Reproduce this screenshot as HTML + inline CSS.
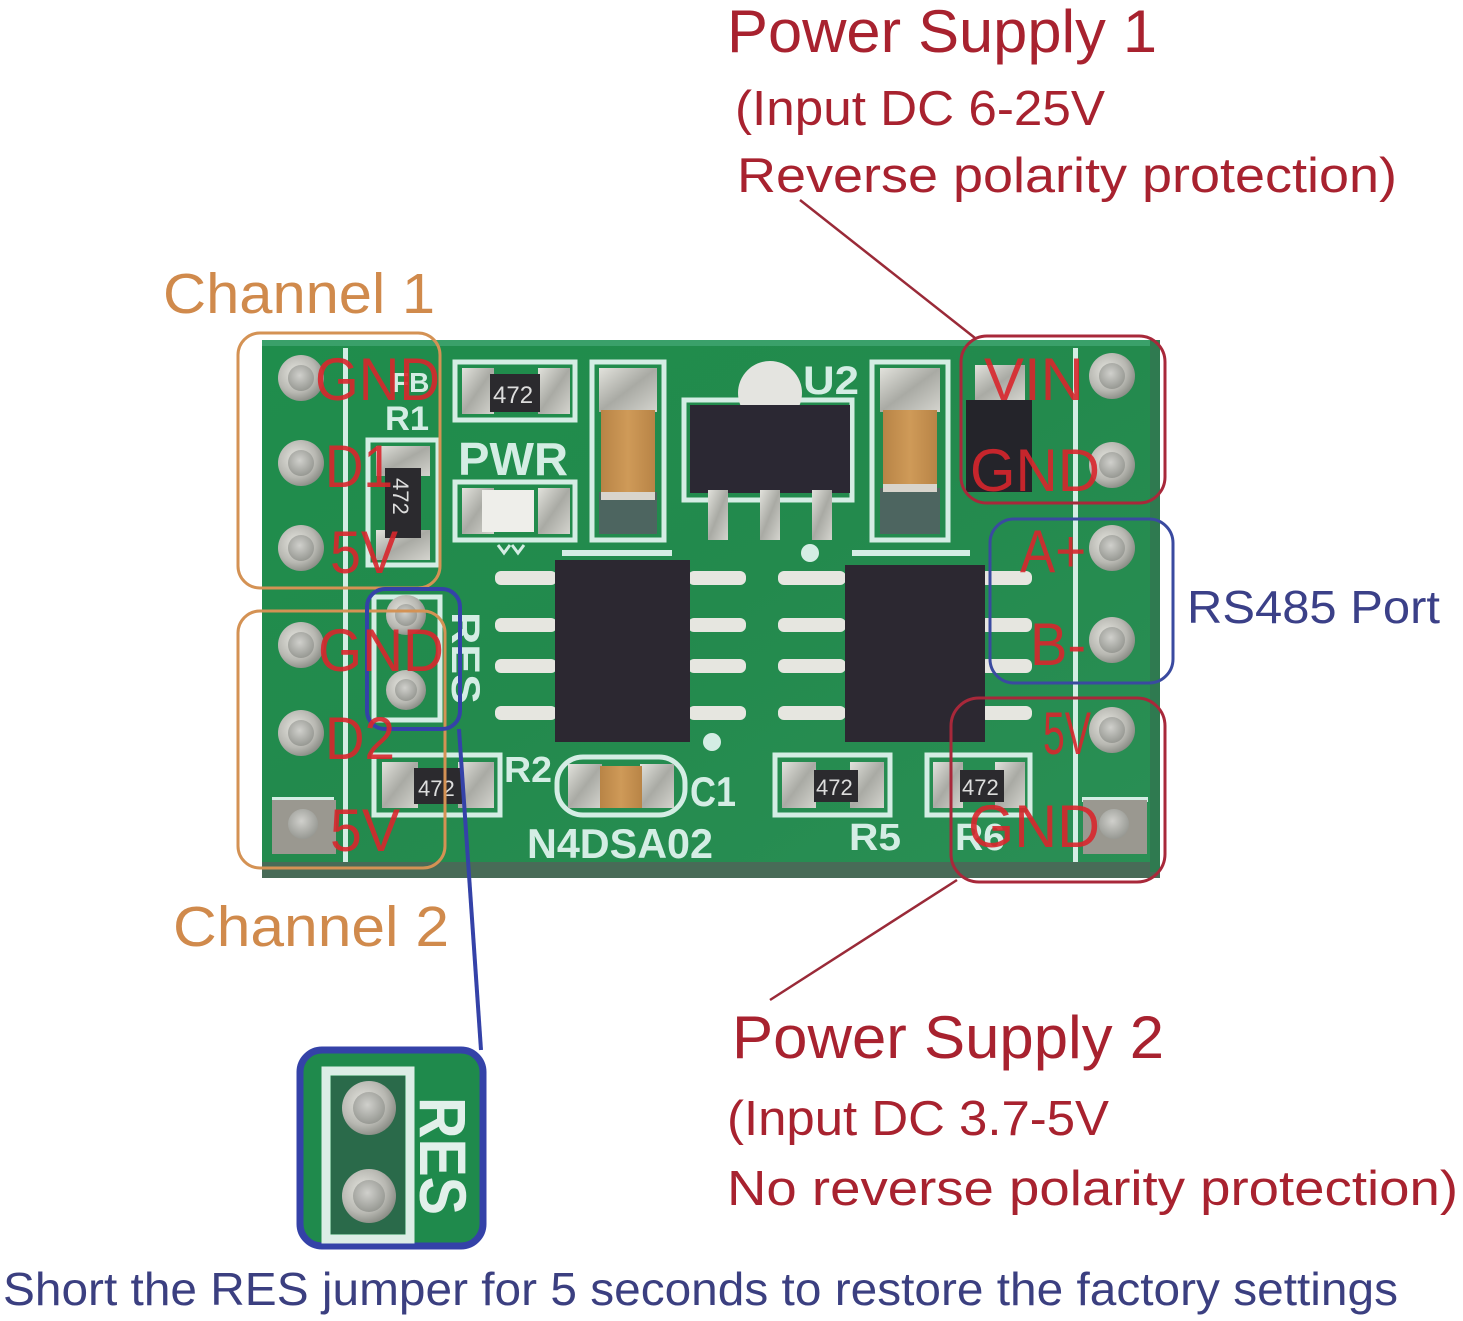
<!DOCTYPE html>
<html>
<head>
<meta charset="utf-8">
<style>
html,body{margin:0;padding:0;background:#fff;}
svg{display:block;}
text{font-family:"Liberation Sans","DejaVu Sans",sans-serif;}
</style>
</head>
<body>
<svg width="1463" height="1321" viewBox="0 0 1463 1321" xmlns="http://www.w3.org/2000/svg">
<defs>
  <linearGradient id="pcb" x1="0" y1="0" x2="1" y2="1">
    <stop offset="0" stop-color="#1f8d4c"/>
    <stop offset="0.5" stop-color="#238a4d"/>
    <stop offset="1" stop-color="#2a8f55"/>
  </linearGradient>
  <radialGradient id="ring" cx="0.4" cy="0.4" r="0.7">
    <stop offset="0" stop-color="#e6e6e0"/>
    <stop offset="0.6" stop-color="#b8b8b2"/>
    <stop offset="1" stop-color="#7c7f78"/>
  </radialGradient>
  <radialGradient id="hole" cx="0.45" cy="0.4" r="0.7">
    <stop offset="0" stop-color="#d0d0cc"/>
    <stop offset="1" stop-color="#8e908a"/>
  </radialGradient>
  <linearGradient id="pad" x1="0" y1="0" x2="1" y2="1">
    <stop offset="0" stop-color="#e2e2dc"/>
    <stop offset="0.5" stop-color="#a9aaa4"/>
    <stop offset="1" stop-color="#d4d4ce"/>
  </linearGradient>
  <linearGradient id="tan" x1="0" y1="0" x2="1" y2="0">
    <stop offset="0" stop-color="#b88446"/>
    <stop offset="0.5" stop-color="#cf9a58"/>
    <stop offset="1" stop-color="#b88446"/>
  </linearGradient>
</defs>

<!-- PCB -->
<rect x="262" y="340" width="898" height="532" fill="url(#pcb)"/>
<rect x="262" y="340" width="898" height="6" fill="#3aa06a"/>
<rect x="262" y="862" width="898" height="16" fill="#486b57"/>
<rect x="1150" y="340" width="10" height="532" fill="#2f7a50"/>

<!-- silkscreen column lines -->
<rect x="343" y="348" width="5" height="514" fill="#d4ede4"/>
<rect x="1073" y="348" width="5" height="514" fill="#d4ede4"/>
<!-- square pad outlines -->
<rect x="272" y="797" width="62" height="5" fill="#d4ede4"/>
<rect x="1082" y="797" width="66" height="5" fill="#d4ede4"/>

<!-- left pin holes -->
<g>
  <rect x="272" y="800" width="64" height="54" fill="#9a9890"/>
  <circle cx="301" cy="378" r="23" fill="url(#ring)"/><circle cx="301" cy="378" r="13" fill="url(#hole)"/>
  <circle cx="301" cy="463" r="23" fill="url(#ring)"/><circle cx="301" cy="463" r="13" fill="url(#hole)"/>
  <circle cx="301" cy="548" r="23" fill="url(#ring)"/><circle cx="301" cy="548" r="13" fill="url(#hole)"/>
  <circle cx="301" cy="645" r="23" fill="url(#ring)"/><circle cx="301" cy="645" r="13" fill="url(#hole)"/>
  <circle cx="301" cy="733" r="23" fill="url(#ring)"/><circle cx="301" cy="733" r="13" fill="url(#hole)"/>
  <circle cx="303" cy="824" r="15" fill="url(#hole)"/>
</g>
<!-- right pin holes -->
<g>
  <rect x="1083" y="800" width="64" height="54" fill="#9a9890"/>
  <circle cx="1112" cy="376" r="23" fill="url(#ring)"/><circle cx="1112" cy="376" r="13" fill="url(#hole)"/>
  <circle cx="1112" cy="465" r="23" fill="url(#ring)"/><circle cx="1112" cy="465" r="13" fill="url(#hole)"/>
  <circle cx="1112" cy="548" r="23" fill="url(#ring)"/><circle cx="1112" cy="548" r="13" fill="url(#hole)"/>
  <circle cx="1112" cy="640" r="23" fill="url(#ring)"/><circle cx="1112" cy="640" r="13" fill="url(#hole)"/>
  <circle cx="1112" cy="730" r="23" fill="url(#ring)"/><circle cx="1112" cy="730" r="13" fill="url(#hole)"/>
  <circle cx="1114" cy="824" r="15" fill="url(#hole)"/>
</g>

<!-- R1 label area -->
<text x="385" y="430" font-size="34" font-weight="bold" fill="#d4ede4" textLength="44" lengthAdjust="spacingAndGlyphs">R1</text>
<text x="392" y="392" font-size="28" font-weight="bold" fill="#d4ede4">FB</text>
<!-- R1 vertical resistor -->
<rect x="368" y="440" width="70" height="125" fill="none" stroke="#d4ede4" stroke-width="5"/>
<rect x="376" y="446" width="54" height="30" fill="url(#pad)"/>
<rect x="376" y="530" width="54" height="30" fill="url(#pad)"/>
<rect x="385" y="468" width="36" height="70" fill="#2b2a2e"/>
<text transform="translate(393,478) rotate(90)" font-size="22" fill="#ddd">472</text>

<!-- RES jumper on board -->
<rect x="374" y="597" width="66" height="123" fill="none" stroke="#d4ede4" stroke-width="5"/>
<circle cx="406" cy="615" r="20" fill="url(#ring)"/><circle cx="406" cy="615" r="11" fill="url(#hole)"/>
<circle cx="406" cy="690" r="20" fill="url(#ring)"/><circle cx="406" cy="690" r="11" fill="url(#hole)"/>
<text transform="translate(452,612) rotate(90)" font-size="40" font-weight="bold" fill="#d4ede4" textLength="92" lengthAdjust="spacingAndGlyphs">RES</text>

<!-- R2 -->
<rect x="374" y="755" width="126" height="60" fill="none" stroke="#d4ede4" stroke-width="5"/>
<rect x="382" y="762" width="36" height="46" fill="url(#pad)"/>
<rect x="458" y="762" width="36" height="46" fill="url(#pad)"/>
<rect x="414" y="768" width="48" height="36" fill="#2b2a2e"/>
<text x="418" y="796" font-size="22" fill="#ddd">472</text>
<text x="504" y="782" font-size="36" font-weight="bold" fill="#d4ede4" textLength="48" lengthAdjust="spacingAndGlyphs">R2</text>

<!-- top resistor 472 -->
<rect x="455" y="362" width="120" height="58" fill="none" stroke="#d4ede4" stroke-width="5"/>
<rect x="462" y="368" width="32" height="46" fill="url(#pad)"/>
<rect x="538" y="368" width="32" height="46" fill="url(#pad)"/>
<rect x="490" y="374" width="50" height="38" fill="#2b2a2e"/>
<text x="493" y="403" font-size="24" fill="#ddd">472</text>

<!-- PWR -->
<text x="458" y="475" font-size="46" font-weight="bold" fill="#d4ede4" textLength="110" lengthAdjust="spacingAndGlyphs">PWR</text>

<!-- LED -->
<rect x="455" y="482" width="120" height="58" fill="none" stroke="#d4ede4" stroke-width="5"/>
<rect x="462" y="488" width="32" height="46" fill="url(#pad)"/>
<rect x="538" y="488" width="32" height="46" fill="url(#pad)"/>
<rect x="482" y="490" width="52" height="42" fill="#eeeeea"/>
<path d="M498 545 l6 8 l6 -8 M512 545 l6 8 l6 -8" stroke="#d4ede4" stroke-width="3" fill="none"/>

<!-- Left capacitor -->
<rect x="592" y="362" width="72" height="178" fill="none" stroke="#d4ede4" stroke-width="5"/>
<rect x="599" y="368" width="58" height="44" fill="url(#pad)"/>
<rect x="599" y="492" width="58" height="42" fill="#4d6560"/>
<rect x="601" y="410" width="54" height="88" fill="url(#tan)"/>
<rect x="601" y="492" width="54" height="8" fill="#d8d4cc"/>

<!-- U2 regulator -->
<rect x="684" y="400" width="168" height="100" fill="none" stroke="#d4ede4" stroke-width="5"/>
<circle cx="770" cy="393" r="32" fill="#e4e4e0"/>
<text x="803" y="394" font-size="40" font-weight="bold" fill="#d4ede4" textLength="56" lengthAdjust="spacingAndGlyphs">U2</text>
<rect x="690" y="405" width="160" height="88" fill="#2b2833"/>
<rect x="708" y="490" width="20" height="50" fill="url(#pad)"/>
<rect x="760" y="490" width="20" height="50" fill="url(#pad)"/>
<rect x="812" y="490" width="20" height="50" fill="url(#pad)"/>

<!-- Right capacitor -->
<rect x="872" y="362" width="76" height="178" fill="none" stroke="#d4ede4" stroke-width="5"/>
<rect x="880" y="368" width="60" height="44" fill="url(#pad)"/>
<rect x="880" y="488" width="60" height="46" fill="#4d6560"/>
<rect x="883" y="410" width="54" height="78" fill="url(#tan)"/>
<rect x="883" y="484" width="54" height="8" fill="#d8d4cc"/>

<!-- Diode -->
<rect x="966" y="400" width="66" height="92" fill="#24242a"/>
<rect x="975" y="365" width="50" height="35" fill="url(#pad)"/>

<!-- IC1 -->
<rect x="562" y="550" width="110" height="6" fill="#d4ede4"/>
<g fill="#e6e6e0">
  <rect x="495" y="571" width="62" height="14" rx="6"/>
  <rect x="495" y="618" width="62" height="14" rx="6"/>
  <rect x="495" y="659" width="62" height="14" rx="6"/>
  <rect x="495" y="706" width="62" height="14" rx="6"/>
  <rect x="688" y="571" width="58" height="14" rx="6"/>
  <rect x="688" y="618" width="58" height="14" rx="6"/>
  <rect x="688" y="659" width="58" height="14" rx="6"/>
  <rect x="688" y="706" width="58" height="14" rx="6"/>
</g>
<rect x="555" y="560" width="135" height="182" fill="#2c2831"/>
<circle cx="712" cy="742" r="9" fill="#d4ede4"/>
<circle cx="810" cy="553" r="9" fill="#d4ede4"/>

<!-- IC2 -->
<rect x="852" y="550" width="118" height="6" fill="#d4ede4"/>
<g fill="#e6e6e0">
  <rect x="778" y="571" width="68" height="14" rx="6"/>
  <rect x="778" y="618" width="68" height="14" rx="6"/>
  <rect x="778" y="659" width="68" height="14" rx="6"/>
  <rect x="778" y="706" width="68" height="14" rx="6"/>
  <rect x="980" y="571" width="52" height="14" rx="6"/>
  <rect x="980" y="618" width="52" height="14" rx="6"/>
  <rect x="980" y="659" width="52" height="14" rx="6"/>
  <rect x="980" y="706" width="52" height="14" rx="6"/>
</g>
<rect x="845" y="565" width="140" height="177" fill="#2c2831"/>

<!-- C1 -->
<rect x="557" y="757" width="128" height="58" rx="26" fill="none" stroke="#d4ede4" stroke-width="5"/>
<rect x="568" y="764" width="34" height="44" fill="url(#pad)"/>
<rect x="640" y="764" width="34" height="44" fill="url(#pad)"/>
<rect x="600" y="766" width="42" height="42" fill="url(#tan)"/>
<text x="690" y="806" font-size="42" font-weight="bold" fill="#d4ede4" textLength="46" lengthAdjust="spacingAndGlyphs">C1</text>
<text x="527" y="858" font-size="42" font-weight="bold" fill="#d4ede4" textLength="186" lengthAdjust="spacingAndGlyphs">N4DSA02</text>

<!-- R5 -->
<rect x="775" y="755" width="115" height="60" fill="none" stroke="#d4ede4" stroke-width="5"/>
<rect x="782" y="762" width="34" height="46" fill="url(#pad)"/>
<rect x="850" y="762" width="34" height="46" fill="url(#pad)"/>
<rect x="814" y="770" width="44" height="32" fill="#2b2a2e"/>
<text x="816" y="795" font-size="22" fill="#ddd">472</text>
<text x="849" y="850" font-size="38" font-weight="bold" fill="#d4ede4" textLength="52" lengthAdjust="spacingAndGlyphs">R5</text>

<!-- R6 -->
<rect x="927" y="755" width="103" height="60" fill="none" stroke="#d4ede4" stroke-width="5"/>
<rect x="933" y="762" width="30" height="46" fill="url(#pad)"/>
<rect x="995" y="762" width="30" height="46" fill="url(#pad)"/>
<rect x="960" y="770" width="44" height="32" fill="#2b2a2e"/>
<text x="962" y="795" font-size="22" fill="#ddd">472</text>
<text x="955" y="850" font-size="38" font-weight="bold" fill="#d4ede4" textLength="50" lengthAdjust="spacingAndGlyphs">R6</text>

<!-- Annotation boxes -->
<rect x="238" y="333" width="202" height="255" rx="22" fill="none" stroke="#d49254" stroke-width="3"/>
<rect x="238" y="611" width="207" height="257" rx="22" fill="none" stroke="#d49254" stroke-width="3"/>
<rect x="367" y="589" width="93" height="140" rx="18" fill="none" stroke="#3442a8" stroke-width="4"/>
<rect x="961" y="336" width="204" height="167" rx="26" fill="none" stroke="#a8283a" stroke-width="3"/>
<rect x="990" y="519" width="183" height="164" rx="24" fill="none" stroke="#3a4aa0" stroke-width="3"/>
<rect x="951" y="698" width="214" height="184" rx="28" fill="none" stroke="#a8283a" stroke-width="3"/>

<!-- Red pin labels -->
<g fill="#d8262c" fill-opacity="0.9" font-size="60">
  <text x="315" y="400" textLength="125" lengthAdjust="spacingAndGlyphs">GND</text>
  <text x="325" y="487" textLength="68" lengthAdjust="spacingAndGlyphs">D1</text>
  <text x="330" y="573" textLength="68" lengthAdjust="spacingAndGlyphs">5V</text>
  <text x="318" y="671" textLength="126" lengthAdjust="spacingAndGlyphs">GND</text>
  <text x="325" y="759" textLength="70" lengthAdjust="spacingAndGlyphs">D2</text>
  <text x="330" y="851" textLength="70" lengthAdjust="spacingAndGlyphs">5V</text>
  <text x="984" y="400" textLength="100" lengthAdjust="spacingAndGlyphs">VIN</text>
  <text x="970" y="491" textLength="130" lengthAdjust="spacingAndGlyphs">GND</text>
  <text x="1020" y="572" textLength="66" lengthAdjust="spacingAndGlyphs">A+</text>
  <text x="1030" y="665" textLength="56" lengthAdjust="spacingAndGlyphs">B-</text>
  <text x="1043" y="754" textLength="48" lengthAdjust="spacingAndGlyphs">5V</text>
  <text x="968" y="847" textLength="132" lengthAdjust="spacingAndGlyphs">GND</text>
</g>

<!-- Connector lines -->
<line x1="800" y1="200" x2="975" y2="338" stroke="#9a2a38" stroke-width="2.5"/>
<line x1="957" y1="880" x2="770" y2="1000" stroke="#9a2a38" stroke-width="2.5"/>
<line x1="459" y1="729" x2="481" y2="1050" stroke="#3442a8" stroke-width="4"/>

<!-- RES callout -->
<rect x="300" y="1050" width="183" height="196" rx="22" fill="#1f8a4c" stroke="#3442a8" stroke-width="7"/>
<rect x="326" y="1071" width="84" height="168" fill="none" stroke="#dcede6" stroke-width="9"/>
<rect x="331" y="1076" width="74" height="158" fill="#2a6a4a"/>
<circle cx="369" cy="1108" r="27" fill="url(#ring)"/><circle cx="369" cy="1108" r="16" fill="url(#hole)"/>
<circle cx="369" cy="1196" r="27" fill="url(#ring)"/><circle cx="369" cy="1196" r="16" fill="url(#hole)"/>
<text transform="translate(420,1097) rotate(90)" font-size="66" font-weight="bold" fill="#e2f0ea" textLength="118" lengthAdjust="spacingAndGlyphs">RES</text>

<!-- Annotation texts -->
<g fill="#a8222f">
  <text x="727" y="52" font-size="60" textLength="430" lengthAdjust="spacingAndGlyphs">Power Supply 1</text>
  <text x="735" y="125" font-size="49" textLength="370" lengthAdjust="spacingAndGlyphs">(Input DC 6-25V</text>
  <text x="737" y="192" font-size="49" textLength="660" lengthAdjust="spacingAndGlyphs">Reverse polarity protection)</text>
  <text x="732" y="1058" font-size="60" textLength="432" lengthAdjust="spacingAndGlyphs">Power Supply 2</text>
  <text x="727" y="1135" font-size="49" textLength="382" lengthAdjust="spacingAndGlyphs">(Input DC 3.7-5V</text>
  <text x="727" y="1205" font-size="49" textLength="731" lengthAdjust="spacingAndGlyphs">No reverse polarity protection)</text>
</g>
<g fill="#d08a4c">
  <text x="163" y="313" font-size="57" textLength="272" lengthAdjust="spacingAndGlyphs">Channel 1</text>
  <text x="173" y="946" font-size="57" textLength="276" lengthAdjust="spacingAndGlyphs">Channel 2</text>
</g>
<text x="1187" y="623" font-size="46" fill="#3b4088" textLength="253" lengthAdjust="spacingAndGlyphs">RS485 Port</text>
<text x="3" y="1305" font-size="46" fill="#3b3f80" textLength="1395" lengthAdjust="spacingAndGlyphs">Short the RES jumper for 5 seconds to restore the factory settings</text>
</svg>
</body>
</html>
